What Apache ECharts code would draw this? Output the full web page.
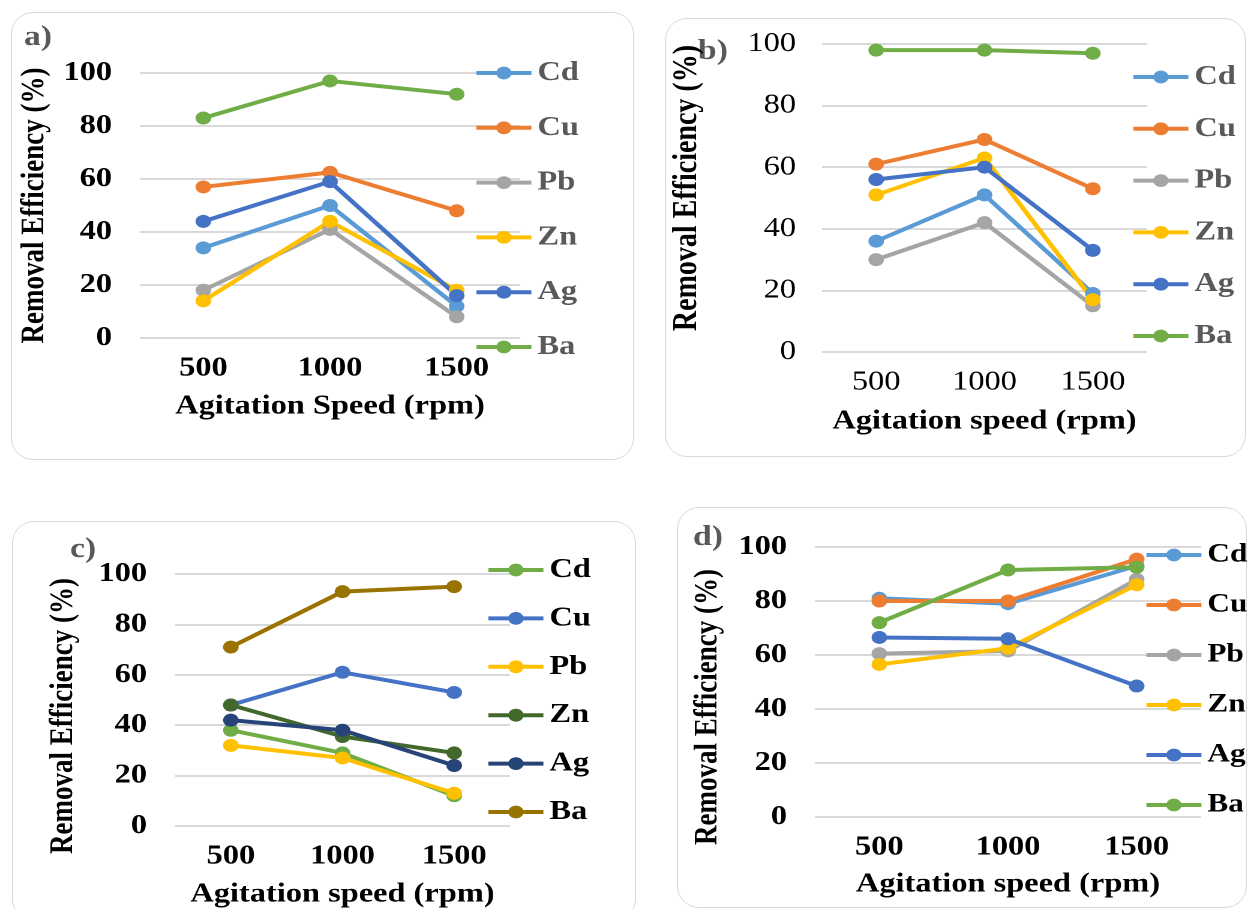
<!DOCTYPE html>
<html lang="en">
<head>
<meta charset="utf-8" />
<title>Removal efficiency vs agitation speed</title>
<script src="https://cdn.jsdelivr.net/npm/echarts@6/dist/echarts.min.js"></script>
<style>
  html, body { margin: 0; padding: 0; background: #fff; overflow: hidden; }
  .box { position: absolute; border: 1.5px solid #d9d9d9; border-radius: 22px; box-sizing: border-box; }
  /* the source figure is stretched sideways, so the chart layers are too */
  .layer { position: absolute; left: 0; top: 0; width: 1040px; height: 909px;
           transform: scaleX(1.2); transform-origin: 0 0; }
</style>
</head>
<body>
<!-- panel frames -->
<div class="box" style="left:11px;top:12px;width:623px;height:448px;"></div>
<div class="box" style="left:665px;top:18px;width:581px;height:439px;"></div>
<div class="box" style="left:12px;top:521px;width:624px;height:400px;"></div>
<div class="box" style="left:677px;top:507px;width:570px;height:401px;"></div>

<div class="layer" id="chartA"></div>
<div class="layer" id="chartB"></div>
<div class="layer" id="chartC"></div>
<div class="layer" id="chartD"></div>

<script>
// x categories (agitation speed, rpm)
const speeds = ['500', '1000', '1500'];
const metals = ['Cd', 'Cu', 'Pb', 'Zn', 'Ag', 'Ba'];

// a)
const cdA = [34, 50, 12];
const cuA = [57, 62.5, 48];
const pbA = [18, 41, 8];
const znA = [14, 44, 18];
const agA = [44, 59, 16];
const baA = [83, 97, 92];

// b)
const cdB = [36, 51, 19];
const cuB = [61, 69, 53];
const pbB = [30, 42, 15];
const znB = [51, 63, 17];
const agB = [56, 60, 33];
const baB = [98, 98, 97];

// c)
const cdC = [38, 29, 12];
const cuC = [48, 61, 53];
const pbC = [32, 27, 13];
const znC = [48, 35.5, 29];
const agC = [42, 38, 24];
const baC = [71, 93, 95];

// d)
const cdD = [81, 79, 93];
const cuD = [80, 80, 95.5];
const pbD = [60.5, 61.5, 88];
const znD = [56.5, 62.5, 86];
const agD = [66.5, 66, 48.5];
const baD = [72, 91.5, 92.5];

const yTicks = [0, 20, 40, 60, 80, 100];

// colours
const officeColors = ['#5B9BD5', '#ED7D31', '#A5A5A5', '#FFC000', '#4472C4', '#70AD47'];
const panelCColors = ['#70AD47', '#4472C4', '#FFC000', '#43682B', '#264478', '#997300'];

const FONT = '"Liberation Serif", "Times New Roman", serif';
const SX = 1.2; // horizontal stretch of the layers
function sx(x) { return x / SX; }

function makePanel(domId, p) {
  const chart = echarts.init(document.getElementById(domId), null, { devicePixelRatio: 2 });
  chart.setOption({
    animation: false,
    textStyle: { fontFamily: FONT },
    graphic: [{
      type: 'text', left: sx(p.tagPos[0]), top: p.tagPos[1],
      style: { text: p.tag, font: 'bold 28px ' + FONT, fill: '#595959' }
    }],
    grid: {
      left: sx(p.grid[0]), top: p.grid[1],
      width: sx(p.grid[2]), height: p.grid[3]
    },
    legend: {
      orient: 'vertical',
      left: sx(p.legend.left),
      top: p.legend.top,
      padding: 0,
      itemWidth: sx(55),
      itemHeight: 16,
      itemGap: p.legend.gap - 30,
      lineStyle: { width: 4 },
      data: metals,
      textStyle: {
        fontFamily: FONT, fontWeight: 'bold', fontSize: p.legend.size,
        lineHeight: 30, color: p.legend.color
      }
    },
    xAxis: {
      type: 'category',
      data: speeds,
      boundaryGap: true,
      axisLine: { show: false },
      axisTick: { show: false },
      axisLabel: { margin: 17, fontFamily: FONT, fontWeight: p.tickWeight, fontSize: 27, color: '#000' },
      name: 'Agitation ' + p.speedWord + ' (rpm)',
      nameLocation: 'middle',
      nameGap: p.xNameGap,
      nameTextStyle: { fontFamily: FONT, fontWeight: 'bold', fontSize: 27, color: '#000' }
    },
    yAxis: {
      type: 'value',
      min: yTicks[0],
      max: yTicks[yTicks.length - 1],
      interval: yTicks[1] - yTicks[0],
      axisLine: { show: false },
      axisTick: { show: false },
      splitLine: { lineStyle: { color: '#d9d9d9', width: 2 } },
      axisLabel: { margin: sx(p.yLabelMargin), fontFamily: FONT, fontWeight: p.tickWeight, fontSize: 27, color: '#000' },
      name: 'Removal Efficiency (%)',
      nameLocation: 'middle',
      nameGap: sx(p.yNameGap),
      nameMoveOverlap: false,
      nameTextStyle: {
        fontFamily: FONT, fontWeight: 'bold', fontSize: p.yNameSize, color: '#000',
        padding: p.yNamePad
      }
    },
    series: metals.map(function (m, i) {
      return {
        name: m,
        type: 'line',
        data: p.values[i],
        symbol: 'circle',
        symbolSize: 13,
        lineStyle: { width: 4, color: p.colors[i] },
        itemStyle: { color: p.colors[i] }
      };
    })
  });
}

makePanel('chartA', {
  tag: 'a)', tagPos: [24, 24],
  grid: [140, 73, 380, 265],
  legend: { left: 474, top: 58, gap: 54.8, color: '#595959', size: 27 },
  values: [cdA, cuA, pbA, znA, agA, baA],
  colors: officeColors,
  tickWeight: 'bold', speedWord: 'Speed',
  xNameGap: 55, yLabelMargin: 28, yNameGap: 89, yNameSize: 27, yNamePad: 0
});

makePanel('chartB', {
  tag: 'b)', tagPos: [698, 38],
  grid: [822, 44, 325, 308],
  legend: { left: 1131, top: 62, gap: 51.8, color: '#595959', size: 27 },
  values: [cdB, cuB, pbB, znB, agB, baB],
  colors: officeColors,
  tickWeight: 'normal', speedWord: 'speed',
  xNameGap: 56, yLabelMargin: 26, yNameGap: 118, yNameSize: 28, yNamePad: [0, 0, 0, 20]
});

makePanel('chartC', {
  tag: 'c)', tagPos: [70, 536],
  grid: [175, 574, 335, 254],
  legend: { left: 486, top: 555, gap: 48.4, color: '#000', size: 27 },
  values: [cdC, cuC, pbC, znC, agC, baC],
  colors: panelCColors,
  tickWeight: 'bold', speedWord: 'speed',
  xNameGap: 55, yLabelMargin: 28, yNameGap: 95, yNameSize: 27, yNamePad: [0, 32, 0, 0]
});

makePanel('chartD', {
  tag: 'd)', tagPos: [693, 524],
  grid: [815, 547, 386, 270],
  legend: { left: 1144, top: 540, gap: 50, color: '#000', size: 26 },
  values: [cdD, cuD, pbD, znD, agD, baD],
  colors: officeColors,
  tickWeight: 'bold', speedWord: 'speed',
  xNameGap: 54, yLabelMargin: 28, yNameGap: 91, yNameSize: 27, yNamePad: [0, 50, 0, 0]
});
</script>
</body>
</html>
